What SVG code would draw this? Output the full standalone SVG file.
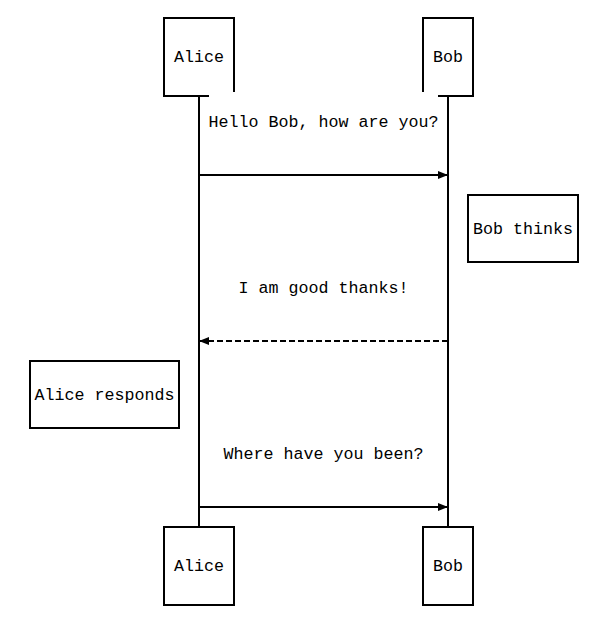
<svg xmlns="http://www.w3.org/2000/svg" width="592" height="623" viewBox="0 0 592 623">
<defs>
<style>
.box{fill:#fff;stroke:#000;stroke-width:2}
.edge{fill:none;stroke:#000;stroke-width:2}
.dash{stroke-dasharray:6,3}
text{font-family:"Liberation Mono","Courier New",monospace;font-size:16.67px;fill:#000;text-anchor:middle}
</style>
<marker id="ah" viewBox="0 0 10 10" refX="10" refY="5" markerWidth="10" markerHeight="10" markerUnits="userSpaceOnUse" orient="auto">
<path d="M0,1 L10,5 L0,9 Z" fill="#000"/>
</marker>
</defs>
<rect width="592" height="623" fill="#fff"/>
<g id="connectors">
<line class="edge" x1="199" y1="96" x2="199" y2="527"/>
<line class="edge" x1="448" y1="96" x2="448" y2="527"/>
<line class="edge" x1="199" y1="175" x2="448" y2="175" marker-end="url(#ah)"/>
<line class="edge dash" x1="448" y1="341" x2="199" y2="341" marker-end="url(#ah)"/>
<line class="edge" x1="199" y1="507" x2="448" y2="507" marker-end="url(#ah)"/>
<text x="323.5" y="127">Hello Bob, how are you?</text>
<text x="323.5" y="293">I am good thanks!</text>
<text x="323.5" y="459">Where have you been?</text>
</g>
<g id="alice-top">
<path class="edge" d="M209,96 L164,96 L164,18 L234,18 L234,92"/>
<text x="199" y="62">Alice</text>
</g>
<g id="bob-top">
<path class="edge" d="M438,96 L473,96 L473,18 L423,18 L423,92"/>
<text x="448" y="62">Bob</text>
</g>
<g id="bob-thinks">
<rect class="box" x="468" y="195" width="110" height="67"/>
<text x="523" y="234">Bob thinks</text>
</g>
<g id="alice-responds">
<rect class="box" x="30" y="361" width="149" height="67"/>
<text x="104.5" y="400">Alice responds</text>
</g>
<g id="alice-bottom">
<rect class="box" x="164" y="527" width="70" height="78"/>
<text x="199" y="571">Alice</text>
</g>
<g id="bob-bottom">
<rect class="box" x="423" y="527" width="50" height="78"/>
<text x="448" y="571">Bob</text>
</g>
</svg>
